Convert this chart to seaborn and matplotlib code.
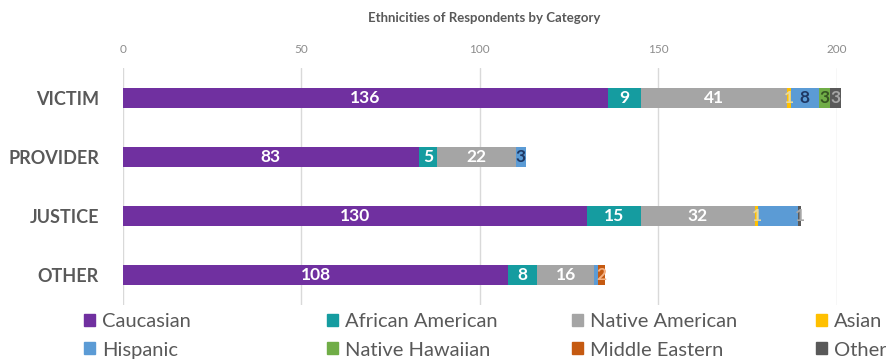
import pandas as pd
import matplotlib.pyplot as plt
import matplotlib.patches as mpatches
import seaborn as sns

# data
categories = ["VICTIM", "PROVIDER", "JUSTICE", "OTHER"]
caucasian = [136, 83, 130, 108]
african_american = [9, 5, 15, 8]
native_american = [41, 22, 32, 16]
asian = [1, 0, 1, 0]
hispanic = [8, 3, 11, 1]
native_hawaiian = [3, 0, 0, 0]
middle_eastern = [0, 0, 0, 2]
other = [3, 0, 1, 0]

series = ["Caucasian", "African American", "Native American", "Asian",
          "Hispanic", "Native Hawaiian", "Middle Eastern", "Other"]
values = [caucasian, african_american, native_american, asian,
          hispanic, native_hawaiian, middle_eastern, other]
colors = ["#7030A0", "#159CA0", "#A5A5A5", "#FFC000",
          "#5B9BD5", "#70AD47", "#C55A11", "#595959"]
label_colors = ["white", "white", "white", "#E8D89A",
                "#1F3864", "#375623", "#F4B183", "#A6A6A6"]
# labels that are not shown on the chart
hidden = [("JUSTICE", "Hispanic"), ("OTHER", "Hispanic")]

df = pd.DataFrame({"category": categories})
for s, v in zip(series, values):
    df[s] = v
cum = df[series].cumsum(axis=1)

sns.set_theme(style="white")
plt.rcParams["font.family"] = ["Lato", "DejaVu Sans"]

fig = plt.figure(figsize=(8.86, 3.62), dpi=100)
ax = fig.add_axes([0.1385, 0.1575, 0.9447 - 0.1385, 0.8122 - 0.1575])

# stacked bars: draw cumulative totals from the last series back to the first
for i in range(len(series) - 1, -1, -1):
    tmp = pd.DataFrame({"category": categories, "total": cum[series[i]]})
    sns.barplot(data=tmp, x="total", y="category", orient="h",
                color=colors[i], saturation=1, width=0.34, ax=ax,
                linewidth=0)

for p in ax.patches:
    p.set_clip_on(False)

# data labels
for j, cat in enumerate(categories):
    for i, s in enumerate(series):
        v = values[i][j]
        if v == 0 or (cat, s) in hidden:
            continue
        x = cum[s][j] - v / 2
        ax.text(x, j, str(v), ha="center", va="center", fontsize=12.5,
                fontweight="bold", color=label_colors[i])

ax.set_xlim(0, 200)
ax.set_ylim(3.5, -0.5)
ax.set_xticks([0, 50, 100, 150, 200])
ax.xaxis.tick_top()
ax.tick_params(axis="x", length=0, pad=9, labelsize=8.5, colors="#8C8C8C")
ax.tick_params(axis="y", length=0, pad=17)
for lbl in ax.get_yticklabels():
    lbl.set_fontweight("bold")
    lbl.set_fontsize(13)
    lbl.set_color("#595959")
ax.set_xlabel("")
ax.set_ylabel("")
ax.grid(axis="x", color="#D9D9D9", linewidth=1)
ax.set_axisbelow(True)
for sp in ax.spines.values():
    sp.set_visible(False)

fig.text(0.547, 1 - 18 / 362, "Ethnicities of Respondents by Category",
         ha="center", va="center", fontsize=9.5, fontweight="bold",
         color="#595959")

# legend: 4 columns, 2 rows, evenly spaced
col_x = [84, 327, 572, 816]
for c in range(4):
    hs = [mpatches.Patch(color=colors[c], label=series[c]),
          mpatches.Patch(color=colors[c + 4], label=series[c + 4])]
    fig.legend(handles=hs, loc="center left",
               bbox_to_anchor=(col_x[c] / 886, 1 - 336 / 362),
               frameon=False, fontsize=14.5, handlelength=0.55,
               handleheight=0.55, handletextpad=0.35, labelspacing=0.55,
               borderpad=0, borderaxespad=0, labelcolor="#595959")

fig.savefig("out.png", dpi=100)
